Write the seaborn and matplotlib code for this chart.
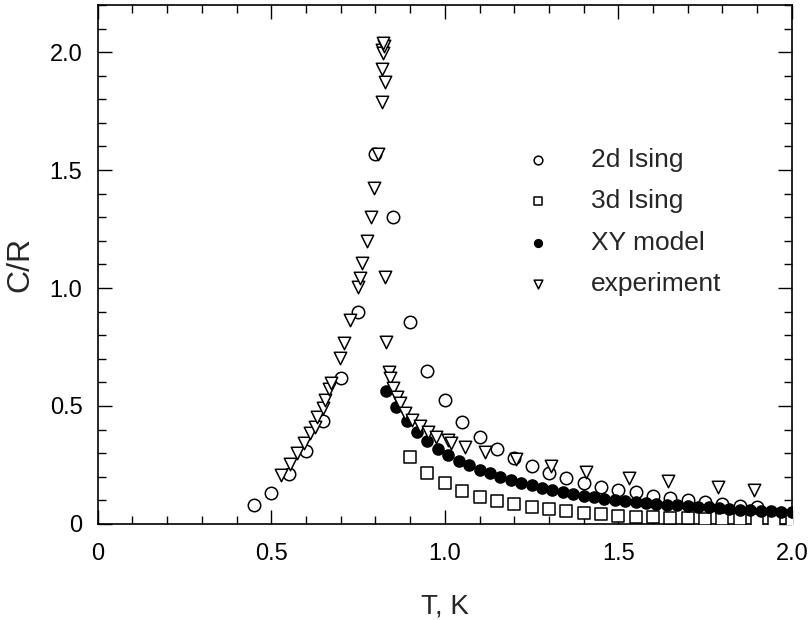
import matplotlib
matplotlib.use("Agg")
import matplotlib.pyplot as plt
import seaborn as sns
import pandas as pd
from matplotlib.ticker import MultipleLocator, FixedLocator, FixedFormatter

# ---------------- data ----------------
ising2d_T = [0.45, 0.50, 0.55, 0.60, 0.65, 0.70, 0.75, 0.80, 0.85, 0.90,
             0.95, 1.00, 1.05, 1.10, 1.15, 1.20, 1.25, 1.30, 1.35, 1.40,
             1.45, 1.50, 1.55, 1.60, 1.65, 1.70, 1.75, 1.80, 1.85, 1.90]
ising2d_C = [0.080, 0.132, 0.212, 0.310, 0.438, 0.617, 0.897, 1.570, 1.300, 0.857,
             0.650, 0.525, 0.434, 0.370, 0.316, 0.278, 0.245, 0.217, 0.195, 0.175,
             0.155, 0.144, 0.134, 0.120, 0.109, 0.102, 0.092, 0.085, 0.078, 0.073]

ising3d_T = [0.90, 0.95, 1.00, 1.05, 1.10, 1.15, 1.20, 1.25, 1.30, 1.35,
             1.40, 1.45, 1.50, 1.55, 1.60, 1.65, 1.70, 1.75, 1.80, 1.85,
             1.90, 1.95, 2.00]
ising3d_C = [0.285, 0.215, 0.172, 0.141, 0.116, 0.097, 0.085, 0.073, 0.064, 0.056,
             0.048, 0.040, 0.035, 0.031, 0.028, 0.026, 0.024, 0.022, 0.021, 0.019,
             0.018, 0.017, 0.016]

xy_T = [0.83, 0.86, 0.89, 0.92, 0.95, 0.98, 1.01, 1.04, 1.07, 1.10,
        1.13, 1.16, 1.19, 1.22, 1.25, 1.28, 1.31, 1.34, 1.37, 1.40,
        1.43, 1.46, 1.49, 1.52, 1.55, 1.58, 1.61, 1.64, 1.67, 1.70,
        1.73, 1.76, 1.79, 1.82, 1.85, 1.88, 1.91, 1.94, 1.97, 2.00]
xy_C = [0.565, 0.495, 0.437, 0.390, 0.350, 0.318, 0.292, 0.268, 0.248, 0.230,
        0.214, 0.199, 0.186, 0.174, 0.163, 0.153, 0.144, 0.135, 0.127, 0.120,
        0.113, 0.107, 0.102, 0.097, 0.093, 0.089, 0.085, 0.082, 0.079, 0.076,
        0.073, 0.070, 0.067, 0.064, 0.061, 0.058, 0.055, 0.053, 0.051, 0.049]

exp_T = [0.529, 0.553, 0.574, 0.594, 0.611, 0.625, 0.632, 0.648, 0.654, 0.667,
         0.673, 0.697, 0.709, 0.727, 0.751, 0.755, 0.762, 0.776, 0.786, 0.797,
         0.808, 0.818, 0.820, 0.827, 0.820, 0.822, 0.824, 0.822,
         0.829, 0.830, 0.840, 0.843, 0.851, 0.861, 0.870, 0.885, 0.906, 0.928,
         0.952, 0.976, 1.010, 1.019, 1.058, 1.117, 1.204, 1.307, 1.406, 1.530,
         1.643, 1.788, 1.891]
exp_C = [0.208, 0.253, 0.300, 0.342, 0.384, 0.412, 0.452, 0.490, 0.525, 0.571,
         0.596, 0.702, 0.768, 0.865, 1.006, 1.041, 1.105, 1.200, 1.300, 1.422,
         1.570, 1.790, 1.927, 1.874, 2.010, 1.995, 2.025, 2.040,
         1.048, 0.773, 0.645, 0.617, 0.575, 0.540, 0.511, 0.472, 0.440, 0.415,
         0.391, 0.370, 0.356, 0.342, 0.328, 0.304, 0.275, 0.246, 0.222, 0.194,
         0.182, 0.158, 0.144]

series_labels = ["2d Ising", "3d Ising", "XY model", "experiment"]
x_ticks = [0, 0.5, 1.0, 1.5, 2.0]
x_ticklabels = ["0", "0.5", "1.0", "1.5", "2.0"]
y_ticks = [0, 0.5, 1.0, 1.5, 2.0]
y_ticklabels = ["0", "0.5", "1.0", "1.5", "2.0"]

# ---------------- plot ----------------
sns.set_theme(style="ticks")
plt.rcParams['font.family'] = ['Liberation Sans', 'DejaVu Sans']

fig = plt.figure(figsize=(8.08, 6.2), dpi=100)
ax = fig.add_axes([0.121, 0.155, 0.859, 0.837])

df2 = pd.DataFrame({"T": ising2d_T, "C": ising2d_C})
df3 = pd.DataFrame({"T": ising3d_T, "C": ising3d_C})
dfx = pd.DataFrame({"T": xy_T, "C": xy_C})
dfe = pd.DataFrame({"T": exp_T, "C": exp_C})

sns.scatterplot(data=df2, x="T", y="C", ax=ax, marker="o", s=80,
                facecolor="white", edgecolor="black", linewidth=1.1,
                label=series_labels[0], zorder=3)
sns.scatterplot(data=df3, x="T", y="C", ax=ax, marker="s", s=70,
                facecolor="white", edgecolor="black", linewidth=1.1,
                label=series_labels[1], zorder=3)
sns.scatterplot(data=dfx, x="T", y="C", ax=ax, marker="o", s=65,
                facecolor="black", edgecolor="black", linewidth=1.0,
                label=series_labels[2], zorder=4)
sns.scatterplot(data=dfe, x="T", y="C", ax=ax, marker="v", s=80,
                facecolor="white", edgecolor="black", linewidth=1.1,
                label=series_labels[3], zorder=5)

ax.set_xlim(0, 2.0)
ax.set_ylim(0, 2.2)
ax.xaxis.set_major_locator(FixedLocator(x_ticks))
ax.xaxis.set_major_formatter(FixedFormatter(x_ticklabels))
ax.yaxis.set_major_locator(FixedLocator(y_ticks))
ax.yaxis.set_major_formatter(FixedFormatter(y_ticklabels))
ax.xaxis.set_minor_locator(MultipleLocator(0.1))
ax.yaxis.set_minor_locator(MultipleLocator(0.1))
ax.tick_params(which="both", direction="in", top=True, right=True,
               colors="black", width=1.0, labelsize=17)
ax.tick_params(axis="x", which="both", pad=14)
ax.tick_params(axis="y", which="both", pad=11)
ax.tick_params(which="major", length=10)
ax.tick_params(which="minor", length=6)
for sp in ax.spines.values():
    sp.set_color("black")
    sp.set_linewidth(1.2)

ax.set_xlabel("T, K", fontsize=20, labelpad=20)
ax.set_ylabel("C/R", fontsize=23, labelpad=10)

leg = ax.legend(loc="upper left", bbox_to_anchor=(0.595, 0.75), frameon=False,
                fontsize=19, markerscale=0.7, handlelength=1.1,
                handletextpad=1.45, labelspacing=0.66, borderpad=0)

fig.savefig("out.png", dpi=100, facecolor="white")
